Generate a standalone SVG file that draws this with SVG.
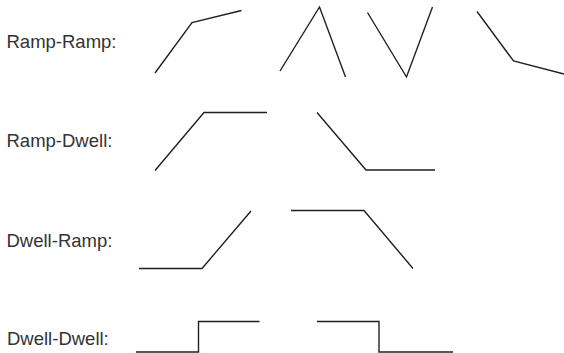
<svg xmlns="http://www.w3.org/2000/svg" width="564" height="353" viewBox="0 0 564 353">
<style>
.lbl{font-family:"Liberation Sans",Arial,sans-serif;font-size:18.5px;fill:#333;}
.ln{fill:none;stroke:#231f20;stroke-width:1.4;stroke-linejoin:miter;}
</style>
<rect width="564" height="353" fill="#fff"/>
<g id="labels">
<text class="lbl" x="6.5" y="48">Ramp-Ramp:</text>
<text class="lbl" x="6.5" y="147">Ramp-Dwell:</text>
<text class="lbl" x="6.5" y="246.5">Dwell-Ramp:</text>
<text class="lbl" x="7" y="345">Dwell-Dwell:</text>
</g>
<g id="connectors">
<polyline class="ln" points="155,73 192,22.5 241.5,10.5"/>
<polyline class="ln" points="280,71 319.5,7 345.5,77"/>
<polyline class="ln" points="367.5,12.5 406.5,77 432.5,7"/>
<polyline class="ln" points="477,11.5 513.5,61 564,74"/>
<polyline class="ln" points="155,170.5 204,112.5 267,112.5"/>
<polyline class="ln" points="317,112.5 366,170 435,170"/>
<polyline class="ln" points="139,268.5 202,268.5 251,211"/>
<polyline class="ln" points="291,210.5 364,210.5 413,268.5"/>
<polyline class="ln" points="136,352 198.5,352 198.5,321.5 259.5,321.5"/>
<polyline class="ln" points="317,321.5 379,321.5 379,352 453,352"/>
</g>
</svg>
